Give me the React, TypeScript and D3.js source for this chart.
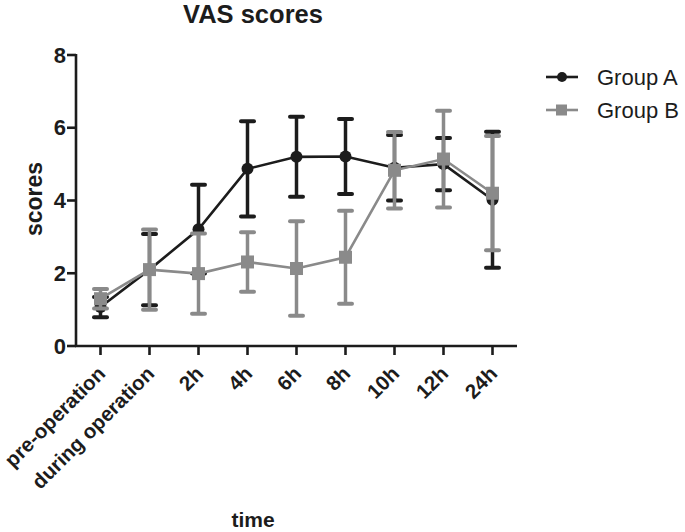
import React from "react";
import * as d3 from "d3";

const categories = ["pre-operation", "during operation", "2h", "4h", "6h", "8h", "10h", "12h", "24h"];
const groupAMean = [1.07, 2.1, 3.21, 4.87, 5.2, 5.21, 4.9, 5.0, 4.02];
const groupAErr = [0.28, 0.98, 1.22, 1.31, 1.1, 1.03, 0.9, 0.72, 1.87];
const groupBMean = [1.3, 2.1, 1.99, 2.31, 2.13, 2.44, 4.83, 5.14, 4.2];
const groupBErr = [0.27, 1.1, 1.1, 0.82, 1.3, 1.28, 1.05, 1.33, 1.57];
const yTicks = [0, 2, 4, 6, 8];
const seriesNames = ["Group A", "Group B"];

const W = 685;
const H = 532;
const left = 76;
const right = 517;
const top = 55;
const bottom = 346;
const FONT = "Arial, 'Liberation Sans', sans-serif";
const colA = "#1c1c1c";
const colB = "#8a8a8a";

export default function App() {
  const x = d3.scalePoint<string>().domain(categories).range([left, right]).padding(0.5);
  const y = d3.scaleLinear().domain([0, 8]).range([bottom, top]);
  const line = d3
    .line<number>()
    .x((_, i) => x(categories[i]) as number)
    .y((d) => y(d));

  const capW = 13;

  const errBars = (means: number[], errs: number[], color: string) =>
    means.map((m, i) => {
      const cx = x(categories[i]) as number;
      const y1 = y(m + errs[i]);
      const y2 = y(m - errs[i]);
      return (
        <g key={i} stroke={color}>
          <line x1={cx} x2={cx} y1={y1} y2={y2} strokeWidth={3.5} />
          <line x1={cx - capW / 2} x2={cx + capW / 2} y1={y1} y2={y1} strokeWidth={4} strokeLinecap="round" />
          <line x1={cx - capW / 2} x2={cx + capW / 2} y1={y2} y2={y2} strokeWidth={4} strokeLinecap="round" />
        </g>
      );
    });

  return (
    <svg width={W} height={H} style={{ position: "absolute", left: 0, top: 0, background: "#fff" }} fontFamily={FONT}>
      <rect width={W} height={H} fill="#fff" />
      <text x={253} y={23} textAnchor="middle" fontSize={25.5} fontWeight="bold" fill="#1c1c1c">
        VAS scores
      </text>

      {/* y axis */}
      <line x1={left} x2={left} y1={top - 1} y2={bottom + 1} stroke="#1c1c1c" strokeWidth={2.6} />
      {yTicks.map((t) => (
        <g key={t}>
          <line x1={left - 9} x2={left} y1={y(t)} y2={y(t)} stroke="#1c1c1c" strokeWidth={2.6} />
          <text x={left - 10} y={y(t)} dy="0.35em" textAnchor="end" fontSize={22} fontWeight="bold" fill="#1c1c1c">
            {t}
          </text>
        </g>
      ))}
      <text
        transform={`translate(42,199) rotate(-90)`}
        textAnchor="middle"
        fontSize={23}
        fontWeight="bold"
        fill="#1c1c1c"
      >
        scores
      </text>

      {/* x axis */}
      <line x1={left - 1} x2={right} y1={bottom} y2={bottom} stroke="#1c1c1c" strokeWidth={2.6} />
      {categories.map((c) => {
        const cx = x(c) as number;
        return (
          <g key={c}>
            <line x1={cx} x2={cx} y1={bottom} y2={bottom + 9} stroke="#1c1c1c" strokeWidth={2.6} />
            <text
              transform={`translate(${cx + 6},${bottom + 29}) rotate(-45)`}
              textAnchor="end"
              fontSize={20.5}
              fontWeight="bold"
              fill="#1c1c1c"
            >
              {c}
            </text>
          </g>
        );
      })}
      <text x={253} y={527} textAnchor="middle" fontSize={21} fontWeight="bold" fill="#1c1c1c">
        time
      </text>

      {/* Group A */}
      {errBars(groupAMean, groupAErr, colA)}
      <path d={line(groupAMean) || ""} fill="none" stroke={colA} strokeWidth={2.6} />
      {groupAMean.map((m, i) => (
        <circle key={i} cx={x(categories[i]) as number} cy={y(m)} r={6} fill={colA} />
      ))}

      {/* Group B */}
      {errBars(groupBMean, groupBErr, colB)}
      <path d={line(groupBMean) || ""} fill="none" stroke={colB} strokeWidth={2.6} />
      {groupBMean.map((m, i) => (
        <rect key={i} x={(x(categories[i]) as number) - 6.5} y={y(m) - 6.5} width={13} height={13} fill={colB} />
      ))}

      {/* legend */}
      {seriesNames.map((n, i) => {
        const ly = 77 + i * 33;
        const col = i === 0 ? colA : colB;
        return (
          <g key={n}>
            <line x1={546} x2={578} y1={ly} y2={ly} stroke={col} strokeWidth={2.6} />
            {i === 0 ? (
              <circle cx={562} cy={ly} r={5} fill={col} />
            ) : (
              <rect x={556} y={ly - 5.5} width={11} height={11} fill={col} />
            )}
            <text x={597} y={ly} dy="0.36em" fontSize={22} fill="#1c1c1c">
              {n}
            </text>
          </g>
        );
      })}
    </svg>
  );
}
